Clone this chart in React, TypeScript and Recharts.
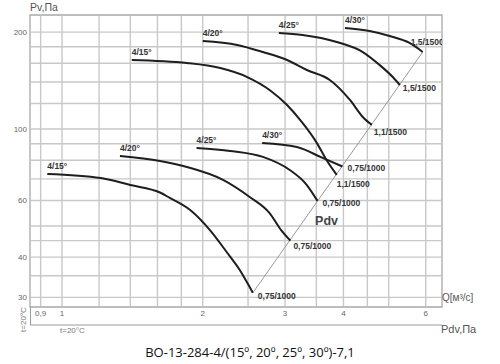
import React from 'react';
import {
  ComposedChart,
  Line,
  Scatter,
  XAxis,
  YAxis,
  ReferenceArea,
} from 'recharts';

// кривые 1000 об/мин
const curve15Low = [
  { q: 0.93, pv: 72.5 }, { q: 1.21, pv: 70.4 }, { q: 1.4, pv: 67.0 }, { q: 1.62, pv: 63.5 },
  { q: 1.7, pv: 61.1 }, { q: 1.88, pv: 56.0 }, { q: 2.07, pv: 48.6 }, { q: 2.25, pv: 41.5 },
  { q: 2.4, pv: 36.5 }, { q: 2.52, pv: 32.3 }, { q: 2.56, pv: 31.0 },
];
const curve20Low = [
  { q: 1.33, pv: 82.4 }, { q: 1.62, pv: 79.5 }, { q: 1.85, pv: 76.2 }, { q: 2.21, pv: 69.5 },
  { q: 2.52, pv: 61.5 }, { q: 2.78, pv: 54.8 }, { q: 2.94, pv: 48.6 }, { q: 3.08, pv: 45.0 },
];
const curve25Low = [
  { q: 1.94, pv: 87.3 }, { q: 2.29, pv: 85.5 }, { q: 2.69, pv: 81.9 }, { q: 3.07, pv: 74.6 },
  { q: 3.34, pv: 67.0 }, { q: 3.52, pv: 59.8 },
];
const curve30Low = [
  { q: 2.68, pv: 90.4 }, { q: 3.18, pv: 87.9 }, { q: 3.61, pv: 81.3 }, { q: 3.98, pv: 76.5 },
];

// кривые 1500 об/мин
const curve15High = [
  { q: 1.41, pv: 163.8 }, { q: 1.85, pv: 160.3 }, { q: 2.18, pv: 154.6 }, { q: 2.49, pv: 145.0 },
  { q: 2.78, pv: 132.2 }, { q: 3.03, pv: 118.7 }, { q: 3.27, pv: 104.4 }, { q: 3.51, pv: 90.4 },
  { q: 3.68, pv: 80.1 }, { q: 3.87, pv: 72.0 },
];
const curve20High = [
  { q: 2.0, pv: 187.7 }, { q: 2.37, pv: 182.4 }, { q: 2.69, pv: 173.4 }, { q: 3.03, pv: 163.8 },
  { q: 3.34, pv: 152.5 }, { q: 3.74, pv: 142.0 }, { q: 4.13, pv: 123.1 }, { q: 4.4, pv: 109.0 },
  { q: 4.6, pv: 103.0 },
];
const curve25High = [
  { q: 2.91, pv: 198.7 }, { q: 3.27, pv: 195.9 }, { q: 3.87, pv: 186.3 }, { q: 4.4, pv: 173.4 },
  { q: 4.78, pv: 158.1 }, { q: 5.1, pv: 145.0 }, { q: 5.28, pv: 137.0 },
];
const curve30High = [
  { q: 4.03, pv: 205.9 }, { q: 4.55, pv: 201.5 }, { q: 5.02, pv: 194.5 }, { q: 5.54, pv: 185.0 },
  { q: 5.91, pv: 173.4 },
];

const curves = [
  { id: 'l15', name: '4/15°', end: '0,75/1000', data: curve15Low },
  { id: 'l20', name: '4/20°', end: '0,75/1000', data: curve20Low },
  { id: 'l25', name: '4/25°', end: '0,75/1000', data: curve25Low },
  { id: 'l30', name: '4/30°', end: '0,75/1000', data: curve30Low },
  { id: 'h15', name: '4/15°', end: '1,1/1500', data: curve15High },
  { id: 'h20', name: '4/20°', end: '1,1/1500', data: curve20High },
  { id: 'h25', name: '4/25°', end: '1,5/1500', data: curve25High },
  { id: 'h30', name: '4/30°', end: '1,5/1500', data: curve30High },
];

// оси
const qDomain = [0.854, 6.5];
const pvDomain = [28, 226];
const qGrid = [0.9, 1, 1.2, 1.4, 1.6, 1.8, 2, 2.5, 3, 3.5, 4, 4.5, 5, 6];
const qLabeled = [0.9, 1, 2, 3, 4, 6];
const pvGrid = [30, 35, 40, 45, 50, 60, 70, 80, 90, 100, 120, 140, 160, 180, 200];
const pvLabeled = [30, 40, 60, 100, 200];
const pdvLabels = ['10', '25', '50', '100', '150'];
const pdvTickQ = [1.4, 2.23, 3.26, 4.55, 5.5];

// линия Pdv через концы кривых
const pdvLine = [curve15Low[curve15Low.length - 1], curve30High[curve30High.length - 1]];

// сетка как отрезки, чуть внутри области
const gridSegments = [
  ...qGrid.map((v) => [{ q: v, pv: 28.2 }, { q: v, pv: 225 }]),
  ...pvGrid.map((v) => [{ q: 0.858, pv: v }, { q: 6.47, pv: v }]),
];

const labelPoints = curves.flatMap((c) => [
  { ...c.data[0], text: c.name, id: c.id + '-s' },
  { ...c.data[c.data.length - 1], text: c.end, id: c.id + '-e' },
]);
const pdvMark = [{ q: 3.68, pv: 52.2, text: 'Pdv', id: 'pdv' }];

const endOffsets: Record<string, [number, number]> = {
  'l15-e': [5, 6],
  'l20-e': [3, 8],
  'l25-e': [5, 5],
  'l30-e': [5, 5],
  'h15-e': [0, 12],
  'h20-e': [2, 10],
  'h25-e': [3, 6],
  'h30-e': [-12, -7],
};

const font = '"Liberation Sans", Arial, sans-serif';
const gridColor = '#c8c8c8';

const CurveLabel = (props: any) => {
  const { cx, cy, payload } = props;
  const [dx, dy] = endOffsets[payload.id] || [0, -5];
  return (
    <text x={cx + dx} y={cy + dy} fontSize={8.5} fontWeight="bold" fill="#333" fontFamily={font}>
      {payload.text}
    </text>
  );
};

const PdvLabel = (props: any) => {
  const { cx, cy, payload } = props;
  return (
    <text x={cx} y={cy + 5} textAnchor="middle" fontSize={12.5} fontWeight="bold" fill="#444" fontFamily={font}>
      {payload.text}
    </text>
  );
};

const fmtNum = (v: number) => String(v).replace('.', ',');

export default function App() {
  return (
    <div style={{ position: 'absolute', left: 0, top: 0, width: 500, height: 364, background: '#fff', fontFamily: font }}>
      <ComposedChart
        width={500}
        height={364}
        margin={{ top: 15, right: 58, left: 0, bottom: 19 }}
      >
        <XAxis
          dataKey="q"
          type="number"
          scale="log"
          domain={qDomain}
          allowDataOverflow
          ticks={qGrid}
          interval={0}
          height={18}
          axisLine={false}
          tickLine={false}
          tickSize={0}
          tickMargin={3}
          tick={{ fontSize: 8, fill: '#666', fontFamily: font }}
          tickFormatter={(v: number) => (qLabeled.includes(v) ? fmtNum(v) : '')}
        />
        <XAxis
          xAxisId="pdv"
          type="number"
          scale="log"
          domain={qDomain}
          allowDataOverflow
          ticks={pdvTickQ}
          interval={0}
          height={20}
          axisLine={{ stroke: '#9a9a9a' }}
          tickLine={{ stroke: '#9a9a9a' }}
          tickSize={4}
          tickMargin={2}
          tick={{ fontSize: 8, fill: '#666', fontFamily: font }}
          tickFormatter={(v: number) => pdvLabels[pdvTickQ.indexOf(v)]}
        />
        <YAxis
          type="number"
          scale="log"
          domain={pvDomain}
          allowDataOverflow
          ticks={pvGrid}
          interval={0}
          width={30}
          axisLine={false}
          tickLine={false}
          tickSize={0}
          tickMargin={3}
          tick={{ fontSize: 8, fill: '#666', fontFamily: font }}
          tickFormatter={(v: number) => (pvLabeled.includes(v) ? String(v) : '')}
        />

        {/* рамка */}
        <ReferenceArea
          x1={qDomain[0]}
          x2={qDomain[1]}
          y1={pvDomain[0]}
          y2={pvDomain[1]}
          fill="transparent"
          fillOpacity={0}
          stroke="#a8a8a8"
          strokeWidth={1.3}
          ifOverflow="visible"
        />

        {/* сетка */}
        {gridSegments.map((seg, i) => (
          <Line
            key={'g' + i}
            data={seg}
            dataKey="pv"
            type="linear"
            stroke={gridColor}
            strokeWidth={1.4}
            dot={false}
            activeDot={false}
            isAnimationActive={false}
          />
        ))}

        <Line
          data={pdvLine}
          dataKey="pv"
          type="linear"
          stroke="#9a9a9a"
          strokeWidth={1}
          dot={false}
          activeDot={false}
          isAnimationActive={false}
        />
        {curves.map((c) => (
          <Line
            key={c.id}
            data={c.data}
            dataKey="pv"
            type="monotone"
            stroke="#1e1e1e"
            strokeWidth={2}
            dot={false}
            activeDot={false}
            isAnimationActive={false}
          />
        ))}
        <Scatter data={labelPoints} dataKey="pv" shape={CurveLabel} isAnimationActive={false} />
        <Scatter data={pdvMark} dataKey="pv" shape={PdvLabel} isAnimationActive={false} />
      </ComposedChart>

      {/* подписи осей */}
      <div style={{ position: 'absolute', left: 30, top: 1, fontSize: 10.5, color: '#555' }}>Pv,Па</div>
      <div style={{ position: 'absolute', left: 442, top: 292, fontSize: 10, color: '#555' }}>Q[м³/с]</div>
      <div style={{ position: 'absolute', left: 441, top: 323, fontSize: 11, color: '#555' }}>Pdv,Па</div>
      <div style={{ position: 'absolute', left: 60, top: 326, fontSize: 8, color: '#777' }}>t=20°C</div>
      <div
        style={{
          position: 'absolute',
          left: 8,
          top: 315,
          width: 30,
          fontSize: 8,
          color: '#777',
          textAlign: 'center',
          transform: 'rotate(-90deg)',
        }}
      >
        t=20°C
      </div>
      <div style={{ position: 'absolute', left: 30, top: 307, width: 1, height: 18, background: '#9a9a9a' }} />
      <div
        style={{
          position: 'absolute',
          left: 0,
          top: 343,
          width: 500,
          textAlign: 'center',
          fontSize: 13,
          color: '#111',
          fontFamily: '"Open Sans", sans-serif',
        }}
      >
        ВО-13-284-4/(15º, 20º, 25º, 30º)-7,1
      </div>
    </div>
  );
}
